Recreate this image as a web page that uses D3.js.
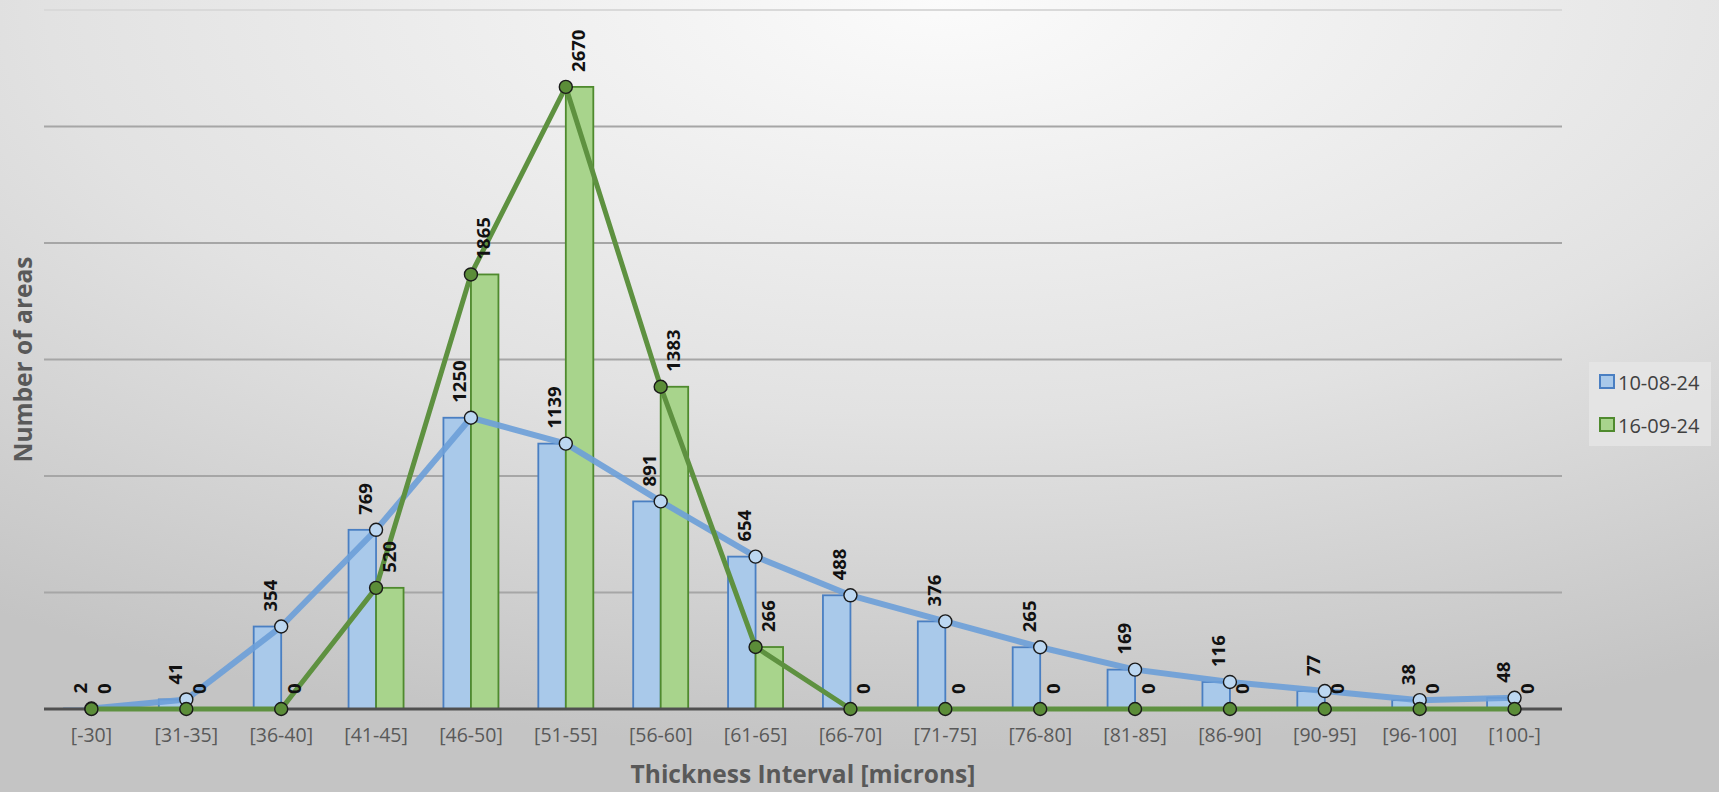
<!DOCTYPE html>
<html>
<head>
<meta charset="utf-8">
<script src="https://cdn.jsdelivr.net/npm/d3@7"></script>
<style>
  html, body { margin: 0; padding: 0; overflow: hidden; }
  svg { display: block; }
</style>
</head>
<body>
<svg id="chart" width="1719" height="792"></svg>
<script>
// Thickness intervals and counts per measurement date
const categories = ["[-30]", "[31-35]", "[36-40]", "[41-45]", "[46-50]", "[51-55]", "[56-60]", "[61-65]",
  "[66-70]", "[71-75]", "[76-80]", "[81-85]", "[86-90]", "[90-95]", "[96-100]", "[100-]"];
const seriesNames = ["10-08-24", "16-09-24"];
const values1008 = [2, 41, 354, 769, 1250, 1139, 891, 654, 488, 376, 265, 169, 116, 77, 38, 48];
const values1609 = [0, 0, 0, 520, 1865, 2670, 1383, 266, 0, 0, 0, 0, 0, 0, 0, 0];
const yTicks = [0, 500, 1000, 1500, 2000, 2500, 3000];

const W = 1719, H = 792;
const margin = { left: 44, right: 157, top: 10, bottom: 83 };
const plotW = W - margin.left - margin.right;
const plotH = H - margin.top - margin.bottom;
const FONT = "'Open Sans', sans-serif";

const svg = d3.select("#chart");
const defs = svg.append("defs");

// Soft grey backdrop, brightest near the top centre
const bg = defs.append("radialGradient").attr("id", "bg")
  .attr("cx", 0.55).attr("cy", 0.0).attr("r", 0.95).attr("fx", 0.55).attr("fy", 0.0);
bg.append("stop").attr("offset", 0).attr("stop-color", "#fbfbfb");
bg.append("stop").attr("offset", 0.55).attr("stop-color", "#e2e2e2");
bg.append("stop").attr("offset", 1).attr("stop-color", "#c4c4c4");
svg.append("rect").attr("width", W).attr("height", H).attr("fill", "url(#bg)");

const g = svg.append("g").attr("transform", `translate(${margin.left},${margin.top})`);

const x = d3.scaleBand().domain(categories).range([0, plotW]).paddingInner(0).paddingOuter(0);
const y = d3.scaleLinear().domain([0, 3000]).range([plotH, 0]);

// Horizontal gridlines
g.append("g").selectAll("line").data(yTicks.filter(d => d > 0)).join("line")
  .attr("x1", 0).attr("x2", plotW)
  .attr("y1", d => y(d)).attr("y2", d => y(d))
  .attr("stroke", d => d === 3000 ? "#d9d9d9" : "#a6a6a6").attr("stroke-width", 2);

const barW = 27.5;
const cx = d => x(d) + x.bandwidth() / 2;

const blue = { fill: "#a9c9ea", stroke: "#4a7fc2", line: "#6b9fd8", dot: "#bcd7f1" };
const green = { fill: "#a8d48c", stroke: "#4f8a2e", line: "#5e9140", dot: "#5b8d38" };

// Bars: first date left of the category centre, second date right of it
g.append("g").selectAll("rect").data(categories).join("rect")
  .attr("x", d => cx(d) - barW)
  .attr("y", (d, i) => y(values1008[i]))
  .attr("width", barW)
  .attr("height", (d, i) => plotH - y(values1008[i]))
  .attr("fill", blue.fill).attr("stroke", blue.stroke).attr("stroke-width", 1.8);

g.append("g").selectAll("rect").data(categories).join("rect")
  .attr("x", d => cx(d))
  .attr("y", (d, i) => y(values1609[i]))
  .attr("width", barW)
  .attr("height", (d, i) => plotH - y(values1609[i]))
  .attr("fill", green.fill).attr("stroke", green.stroke).attr("stroke-width", 1.8);

// Baseline axis
g.append("line").attr("x1", 0).attr("x2", plotW).attr("y1", plotH).attr("y2", plotH)
  .attr("stroke", "#505050").attr("stroke-width", 3);

// Category labels
const xAxis = g.append("g").attr("transform", `translate(0,${plotH})`)
  .call(d3.axisBottom(x).tickSize(0).tickPadding(19));
xAxis.select(".domain").remove();
xAxis.selectAll("text").attr("fill", "#595959").attr("font-family", FONT)
  .attr("font-size", 19.5);

const line = d3.line().x(d => cx(d.c)).y(d => y(d.v));
const pts1008 = categories.map((c, i) => ({ c, v: values1008[i] }));
const pts1609 = categories.map((c, i) => ({ c, v: values1609[i] }));

// Trend line and markers, first date
g.append("path").datum(pts1008).attr("d", line).attr("fill", "none")
  .attr("stroke", blue.line).attr("stroke-width", 6).attr("stroke-opacity", 0.9)
  .attr("stroke-linejoin", "round");
g.append("g").selectAll("circle").data(pts1008).join("circle")
  .attr("cx", d => cx(d.c)).attr("cy", d => y(d.v)).attr("r", 6.5)
  .attr("fill", blue.dot).attr("stroke", "#1a1a1a").attr("stroke-width", 1.4);

// Trend line and markers, second date
g.append("path").datum(pts1609).attr("d", line).attr("fill", "none")
  .attr("stroke", green.line).attr("stroke-width", 5)
  .attr("stroke-linejoin", "round");
g.append("g").selectAll("circle").data(pts1609).join("circle")
  .attr("cx", d => cx(d.c)).attr("cy", d => y(d.v)).attr("r", 6.5)
  .attr("fill", green.dot).attr("stroke", "#1a1a1a").attr("stroke-width", 1.4);

// Rotated value labels
function valueLabels(pts, dx) {
  g.append("g").selectAll("text").data(pts).join("text")
    .attr("transform", d => `translate(${cx(d.c) + dx},${y(d.v) - 15}) rotate(-90)`)
    .attr("text-anchor", "start").attr("dominant-baseline", "central")
    .attr("font-family", FONT).attr("font-weight", 700)
    .attr("font-size", 18.5).attr("fill", "#111")
    .text(d => d.v);
}
valueLabels(pts1008, -12);
valueLabels(pts1609, 12);

// Axis titles
svg.append("text").attr("x", margin.left + plotW / 2).attr("y", 783)
  .attr("text-anchor", "middle").attr("font-family", FONT)
  .attr("font-weight", 700).attr("font-size", 24.5).attr("fill", "#595959")
  .text("Thickness Interval [microns]");
svg.append("text")
  .attr("transform", `translate(22,${margin.top + plotH / 2}) rotate(-90)`)
  .attr("text-anchor", "middle").attr("dominant-baseline", "central")
  .attr("font-family", FONT)
  .attr("font-weight", 700).attr("font-size", 24.5).attr("fill", "#595959")
  .text("Number of areas");

// Legend
const legend = svg.append("g").attr("transform", "translate(1589,362)");
legend.append("rect").attr("width", 122).attr("height", 84).attr("fill", "#e6e6e6").attr("opacity", 0.8);
const items = [
  { name: seriesNames[0], c: blue },
  { name: seriesNames[1], c: green }
];
const li = legend.selectAll("g.item").data(items).join("g")
  .attr("transform", (d, i) => `translate(11,${20 + i * 43})`);
li.append("rect").attr("x", 0).attr("y", -7).attr("width", 14).attr("height", 13)
  .attr("fill", d => d.c.fill).attr("stroke", d => d.c.stroke).attr("stroke-width", 2);
li.append("text").attr("x", 18).attr("y", 0).attr("dominant-baseline", "central")
  .attr("font-family", FONT).attr("font-size", 20).attr("fill", "#404040")
  .text(d => d.name);
</script>
</body>
</html>
